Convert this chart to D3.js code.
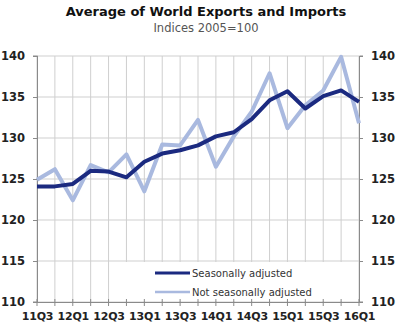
<!DOCTYPE html>
<html><head><meta charset="utf-8">
<script src="https://cdn.jsdelivr.net/npm/d3@7"></script>
<style>body{margin:0;background:#fff}svg{display:block}</style>
</head><body>
<svg id="c" width="400" height="330"></svg>
<script>
const quarters = ["11Q3","11Q4","12Q1","12Q2","12Q3","12Q4","13Q1","13Q2","13Q3","13Q4","14Q1","14Q2","14Q3","14Q4","15Q1","15Q2","15Q3","15Q4","16Q1"];
const seasonallyAdjusted = [124.1,124.1,124.4,126.0,125.9,125.2,127.1,128.1,128.5,129.1,130.2,130.7,132.3,134.6,135.7,133.6,135.1,135.8,134.4];
const notSeasonallyAdjusted = [124.9,126.2,122.4,126.7,125.8,128.0,123.5,129.2,129.1,132.2,126.5,130.2,133.2,137.9,131.2,134.0,135.8,139.9,131.8];
const yTicks = [110,115,120,125,130,135,140];
const xTickLabels = ["11Q3","12Q1","12Q3","13Q1","13Q3","14Q1","14Q3","15Q1","15Q3","16Q1"];
const seriesNames = ["Seasonally adjusted","Not seasonally adjusted"];
const colors = ["#1b2a80","#a9b9df"];

const svg = d3.select("#c");
const L = 37, R = 359, T = 56, B = 302;
const x = d3.scalePoint().domain(quarters).range([L, R]);
const y = d3.scaleLinear().domain([110, 140]).range([B, T]);
const font = "'DejaVu Sans', Verdana, sans-serif";

// title
svg.append("text").attr("x", 206).attr("y", 16).attr("text-anchor","middle")
  .attr("font-family", font).attr("font-weight","bold").attr("font-size", 13).attr("fill","#111")
  .text("Average of World Exports and Imports");
svg.append("text").attr("x", 206).attr("y", 32).attr("text-anchor","middle")
  .attr("font-family", font).attr("font-size", 11.5).attr("fill","#555")
  .text("Indices 2005=100");

// grid
const g = svg.append("g");
g.selectAll(".hg").data(yTicks).join("line")
  .attr("x1", L).attr("x2", R).attr("y1", d => y(d)).attr("y2", d => y(d))
  .attr("stroke", "#cfcfcf").attr("stroke-width", 1);
g.selectAll(".vg").data(quarters).join("line")
  .attr("x1", d => x(d)).attr("x2", d => x(d)).attr("y1", T).attr("y2", B)
  .attr("stroke", "#cfcfcf").attr("stroke-width", 1);

// legend background
svg.append("rect").attr("x", 116).attr("y", y(115) + 1).attr("width", R - 116 - 1).attr("height", B - y(115) - 2).attr("fill", "#fff");

// axes
const yl = d3.axisLeft(y).tickValues(yTicks).tickSize(4).tickPadding(8);
const yr = d3.axisRight(y).tickValues(yTicks).tickSize(4).tickPadding(8);
const xb = d3.axisBottom(x).tickSize(0).tickPadding(10).tickFormat(d => xTickLabels.includes(d) ? d : "");
function style(sel){
  sel.select(".domain").attr("stroke","#8a8a8a");
  sel.selectAll(".tick line").attr("stroke","#8a8a8a");
  sel.selectAll("text").attr("font-family", font).attr("font-weight","bold").attr("font-size", 11.5).attr("fill","#222");
}
svg.append("g").attr("transform", `translate(${L},0)`).call(yl).call(style).call(s=>s.select(".domain").attr("d",`M-4,${T}H0.5V${B}H-4`));
svg.append("g").attr("transform", `translate(${R},0)`).call(yr).call(style).call(s=>s.select(".domain").attr("d",`M4,${T}H0.5V${B}H4`));
const xg = svg.append("g").attr("transform", `translate(0,${B})`).call(xb).call(style);
xg.selectAll("text").attr("font-size", 11).attr("letter-spacing", -0.2);
xg.select(".domain").remove();
svg.append("line").attr("x1", L).attr("x2", R).attr("y1", B+0.5).attr("y2", B+0.5).attr("stroke","#8a8a8a");
svg.selectAll(".xt").data(quarters).join("line")
  .attr("x1", d => x(d)).attr("x2", d => x(d)).attr("y1", B-3).attr("y2", B+4).attr("stroke","#8a8a8a");

// lines
const line = d3.line().x((d,i) => x(quarters[i])).y(d => y(d));
svg.append("path").datum(notSeasonallyAdjusted).attr("d", line)
  .attr("fill","none").attr("stroke", colors[1]).attr("stroke-width", 4).attr("stroke-linejoin","round");
svg.append("path").datum(seasonallyAdjusted).attr("d", line)
  .attr("fill","none").attr("stroke", colors[0]).attr("stroke-width", 4).attr("stroke-linejoin","round");

// legend
const lg = svg.append("g");
seriesNames.forEach((n, i) => {
  const yy = 273 + i * 19;
  lg.append("line").attr("x1", 155).attr("x2", 190).attr("y1", yy).attr("y2", yy)
    .attr("stroke", colors[i]).attr("stroke-width", i === 0 ? 3 : 2.5);
  lg.append("text").attr("x", 192).attr("y", yy + 3.5).attr("font-family", font)
    .attr("font-size", 10).attr("fill", "#333").text(n);
});
</script>
</body></html>
